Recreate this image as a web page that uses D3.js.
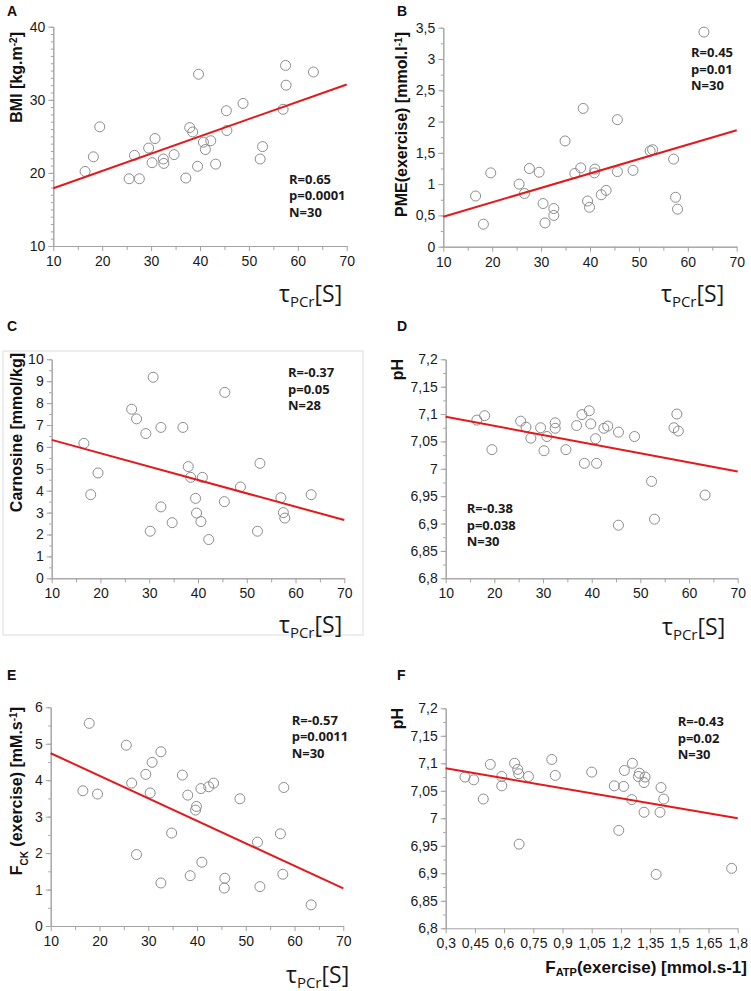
<!DOCTYPE html>
<html><head><meta charset="utf-8">
<script src="https://cdn.jsdelivr.net/npm/d3@7"></script>
<style>body{margin:0;background:#fff}svg{display:block}</style>
</head><body><svg id="c" width="751" height="991"></svg>
<script>
// ---------- DATA ----------
const tauTicks = [10,20,30,40,50,60,70];
const tauMinor = [15,25,35,45,55,65];
const tauLabels = ["10","20","30","40","50","60","70"];

// A: BMI vs tau
const aX = [16.5,18.2,19.5,25.5,26.6,27.6,29.5,30.2,30.8,32.5,32.6,34.7,37.1,37.9,38.5,39.7,39.5,40.7,41.1,42.2,43.2,45.4,45.5,48.8,52.3,52.8,57.0,57.5,57.6,63.2];
const aY = [20.2,22.2,26.3,19.2,22.4,19.2,23.4,21.4,24.7,21.9,21.3,22.5,19.3,26.2,25.6,33.5,20.9,24.2,23.2,24.4,21.2,28.5,25.8,29.5,21.9,23.6,28.7,34.7,32.0,33.8];
const aFit = [[10,17.9],[70,32.1]];
const aYTicks = [10,20,30,40], aYLabels = ["10","20","30","40"];
const aStats = ["R=0.65","p=0.0001","N=30"];

// B: PME(exercise) vs tau
const bX = [16.6,18.2,19.7,25.5,26.6,27.6,29.6,30.4,30.8,32.6,32.6,34.9,36.9,38.1,38.6,39.5,39.9,40.9,41.0,42.3,43.3,45.6,45.6,48.8,52.3,52.8,57.1,57.5,57.9,63.3];
const bY = [0.81,0.36,1.18,1.00,0.85,1.25,1.19,0.69,0.38,0.61,0.50,1.69,1.17,1.26,2.21,0.73,0.63,1.18,1.24,0.83,0.90,2.03,1.20,1.22,1.53,1.55,1.40,0.79,0.60,3.43];
const bFit = [[10,0.48],[70,1.86]];
const bYTicks = [0,0.5,1,1.5,2,2.5,3,3.5], bYLabels = ["0","0,5","1","1,5","2","2,5","3","3,5"];
const bStats = ["R=0.45","p=0.01","N=30"];

// C: Carnosine vs tau
const cX = [16.6,18.0,19.5,26.4,27.4,29.3,30.2,30.8,32.4,32.4,34.7,36.9,38.0,38.5,39.5,39.7,40.6,40.9,42.2,45.5,45.4,48.7,52.2,52.7,57.0,57.5,57.8,63.2];
const cY = [6.16,3.82,4.81,7.72,7.28,6.61,2.15,9.18,6.89,3.26,2.54,6.89,5.10,4.61,3.65,2.98,2.59,4.61,1.77,8.49,3.50,4.17,2.15,5.25,3.68,3.00,2.75,3.82];
const cFit = [[10,6.32],[70,2.66]];
const cYTicks = [0,1,2,3,4,5,6,7,8,9,10], cYLabels = ["0","1","2","3","4","5","6","7","8","9","10"];
const cStats = ["R=-0.37","p=0.05","N=28"];

// D: pH vs tau
const dX = [16.4,18.0,19.5,25.4,26.5,27.5,29.5,30.2,30.8,32.5,32.5,34.7,36.9,38.0,38.5,39.5,39.8,40.8,41.0,42.5,43.3,45.5,45.5,48.8,52.3,52.9,56.9,57.5,57.8,63.3];
const dY = [7.089,7.097,7.035,7.087,7.076,7.056,7.075,7.033,7.059,7.084,7.074,7.035,7.079,7.099,7.010,7.106,7.082,7.055,7.010,7.074,7.078,6.897,7.067,7.059,6.977,6.908,7.075,7.100,7.069,6.952];
const dFit = [[10,7.095],[70,6.995]];
const phTicks = [6.8,6.85,6.9,6.95,7.0,7.05,7.1,7.15,7.2];
const phLabels = ["6,8","6,85","6,9","6,95","7","7,05","7,1","7,15","7,2"];
const dStats = ["R=-0.38","p=0.038","N=30"];

// E: F_CK(exercise) vs tau
const eX = [16.6,17.9,19.6,25.5,26.6,27.6,29.5,30.4,30.8,32.6,32.6,34.8,37.0,38.1,38.6,39.7,39.9,40.8,41.0,42.4,43.4,45.7,45.6,48.8,52.4,52.9,57.1,57.6,57.8,63.4];
const eY = [3.71,5.56,3.62,4.96,3.92,1.96,4.16,3.65,4.49,4.78,1.18,2.55,4.14,3.59,1.38,3.18,3.28,3.77,1.75,3.82,3.92,1.31,1.04,3.49,2.30,1.08,2.53,1.42,3.80,0.58];
const eFit = [[10,4.74],[70,1.03]];
const eYTicks = [0,1,2,3,4,5,6], eYLabels = ["0","1","2","3","4","5","6"];
const eStats = ["R=-0.57","p=0.0011","N=30"];

// F: pH vs F_ATP(exercise)
const fX = [0.399,0.444,0.493,0.529,0.588,0.588,0.654,0.670,0.675,0.677,0.725,0.845,0.863,1.050,1.166,1.189,1.214,1.218,1.256,1.259,1.290,1.295,1.319,1.319,1.324,1.381,1.401,1.406,1.420,1.769];
const fY = [7.075,7.070,7.035,7.098,7.076,7.059,7.100,7.089,7.081,6.953,7.076,7.107,7.078,7.084,7.059,6.978,7.058,7.087,7.034,7.100,7.076,7.082,7.011,7.065,7.075,6.898,7.011,7.056,7.035,6.909];
const fFit = [[0.3,7.091],[1.8,7.000]];
const fXTicks = [0.3,0.45,0.6,0.75,0.9,1.05,1.2,1.35,1.5,1.65,1.8];
const fXLabels = ["0,3","0,45","0,6","0,75","0,9","1,05","1,2","1,35","1,5","1,65","1,8"];
const fStats = ["R=-0.43","p=0.02","N=30"];

function range(a,b,s){const r=[];for(let v=a;v<=b+1e-9;v+=s)r.push(+v.toFixed(4));return r;}

// ---------- LAYOUT ----------
const panels = [
 {id:"A",xs:aX,ys:aY,fit:aFit,xDom:[10,70],yDom:[10,40],xT:tauTicks,xL:tauLabels,xM:tauMinor,yT:aYTicks,yL:aYLabels,yM:range(10,40,1),stats:aStats,
  l:53.3,r:346.7,t:26.7,b:246,lab:[7,16],statPos:[289,183.5],yLab:{x:21.5,y:32,parts:[["BMI [kg.m",""],["-2","sup"],["]",""]]},tauPos:[279,302]},
 {id:"B",xs:bX,ys:bY,fit:bFit,xDom:[10,70],yDom:[0,3.5],xT:tauTicks,xL:tauLabels,xM:tauMinor,yT:bYTicks,yL:bYLabels,yM:range(0,3.5,0.25),stats:bStats,
  l:443.3,r:736.7,t:27.7,b:246.7,lab:[397,16],statPos:[691,57],yLab:{x:407,y:32,parts:[["PME(exercise) [mmol.l",""],["-1","sup"],["]",""]]},tauPos:[661,302]},
 {id:"C",xs:cX,ys:cY,fit:cFit,xDom:[10,70],yDom:[0,10],xT:tauTicks,xL:tauLabels,xM:tauMinor,yT:cYTicks,yL:cYLabels,yM:range(0,10,0.5),stats:cStats,
  l:51.7,r:344.3,t:359.3,b:578.3,lab:[7,331],statPos:[288,377],yLab:{x:21.5,y:353,parts:[["Carnosine [mmol/kg]",""]]},tauPos:[279,633],frame:[3,351,360,284]},
 {id:"D",xs:dX,ys:dY,fit:dFit,xDom:[10,70],yDom:[6.8,7.2],xT:tauTicks,xL:tauLabels,xM:tauMinor,yT:phTicks,yL:phLabels,yM:range(6.8,7.2,0.025),stats:dStats,
  l:445.7,r:737.7,t:359.3,b:578.3,lab:[397,331],statPos:[466.7,513],yLab:{x:403,y:359,parts:[["pH",""]]},tauPos:[662,635]},
 {id:"E",xs:eX,ys:eY,fit:eFit,xDom:[10,70],yDom:[0,6],xT:tauTicks,xL:tauLabels,xM:tauMinor,yT:eYTicks,yL:eYLabels,yM:range(0,6,0.5),stats:eStats,
  l:50.7,r:343.3,t:707.3,b:926,lab:[7,680],statPos:[291.7,724.5],yLab:{x:22,y:707,parts:[["F",""],["CK","sub"],[" (exercise) [mM.s",""],["-1","sup"],["]",""]]},tauPos:[286,983]},
 {id:"F",xs:fX,ys:fY,fit:fFit,xDom:[0.3,1.8],yDom:[6.8,7.2],xT:fXTicks,xL:fXLabels,xM:[],yT:phTicks,yL:phLabels,yM:range(6.8,7.2,0.025),stats:fStats,
  l:445.7,r:737.7,t:708.3,b:928.3,lab:[397,680],statPos:[677.7,726],yLab:{x:403,y:708,parts:[["pH",""]]},
  xLab:{x:747,y:973,parts:[["F",""],["ATP","sub"],["(exercise) [mmol.s-1]",""]]}}
];

const svg = d3.select("#c");
svg.append("rect").attr("width",751).attr("height",991).attr("fill","#fff");
const AX="#a3a3a3", TXT="#1a1a1a";

function styleAxis(g){
  g.selectAll(".domain").attr("stroke",AX).attr("stroke-width",1);
  g.selectAll(".tick line").attr("stroke",AX).attr("stroke-width",1);
  g.selectAll(".tick text").attr("fill",TXT).attr("font-family","'Liberation Sans',Arial,sans-serif").attr("font-size",14);
}
function addParts(text, parts, big, small){
  parts.forEach(([s,k])=>{
    const t=text.append("tspan").text(s);
    if(k==="sup"){t.attr("font-size",small).attr("baseline-shift","super");}
    else if(k==="sub"){t.attr("font-size",small).attr("baseline-shift","sub");}
  });
}

panels.forEach(p=>{
  const x=d3.scaleLinear().domain(p.xDom).range([p.l,p.r]);
  const y=d3.scaleLinear().domain(p.yDom).range([p.b,p.t]);
  const g=svg.append("g");
  if(p.frame){
    g.append("rect").attr("x",p.frame[0]).attr("y",p.frame[1]).attr("width",p.frame[2]).attr("height",p.frame[3])
      .attr("fill","none").attr("stroke","#dcdcdc").attr("stroke-width",1);
  }
  // y minor
  g.append("g").attr("transform",`translate(${p.l},0)`)
    .call(d3.axisLeft(y).tickValues(p.yM).tickSize(2.5).tickSizeOuter(0).tickFormat(""))
    .call(styleAxis);
  // y major
  g.append("g").attr("transform",`translate(${p.l},0)`)
    .call(d3.axisLeft(y).tickValues(p.yT).tickSize(5).tickPadding(3).tickSizeOuter(0).tickFormat((d,i)=>p.yL[i]))
    .call(styleAxis);
  // x minor
  if(p.xM.length){
    g.append("g").attr("transform",`translate(0,${p.b})`)
      .call(d3.axisBottom(x).tickValues(p.xM).tickSize(4).tickSizeOuter(0).tickFormat(""))
      .call(styleAxis);
  }
  // x major
  g.append("g").attr("transform",`translate(0,${p.b})`)
    .call(d3.axisBottom(x).tickValues(p.xT).tickSize(5).tickPadding(5).tickSizeOuter(0).tickFormat((d,i)=>p.xL[i]))
    .call(styleAxis);

  // points
  g.append("g").selectAll("circle").data(p.xs.map((v,i)=>[v,p.ys[i]])).join("circle")
    .attr("cx",d=>x(d[0])).attr("cy",d=>y(d[1])).attr("r",5)
    .attr("fill","none").attr("stroke","#8c8c8c").attr("stroke-width",1);
  // fit line
  g.append("path").datum(p.fit).attr("d",d3.line().x(d=>x(d[0])).y(d=>y(d[1])))
    .attr("stroke","#e3191c").attr("stroke-width",2).attr("fill","none");

  // panel letter
  g.append("text").attr("x",p.lab[0]).attr("y",p.lab[1]).text(p.id)
    .attr("font-family","'Liberation Sans',Arial,sans-serif").attr("font-weight","bold").attr("font-size",14).attr("fill","#111");

  // stats
  p.stats.forEach((s,i)=>{
    g.append("text").attr("x",p.statPos[0]).attr("y",p.statPos[1]+i*16.5).text(s)
      .attr("font-family","'Open Sans',sans-serif").attr("font-weight","bold").attr("font-size",13).attr("fill","#1a1a1a");
  });

  // y label
  const yl=g.append("text").attr("transform",`translate(${p.yLab.x},${p.yLab.y}) rotate(-90)`)
    .attr("text-anchor","end").attr("font-family","'Liberation Sans',Arial,sans-serif").attr("font-weight","bold")
    .attr("font-size",16).attr("fill","#111");
  addParts(yl,p.yLab.parts,16,10);

  // x label
  if(p.tauPos){
    const t=g.append("text").attr("x",p.tauPos[0]).attr("y",p.tauPos[1])
      .attr("font-family","'Open Sans',sans-serif").attr("font-size",23).attr("fill","#1a1a1a");
    t.append("tspan").text("τ");
    t.append("tspan").text("PCr").attr("font-size",15).attr("dy",5);
    t.append("tspan").text("[S]").attr("dy",-5);
  } else {
    const t=g.append("text").attr("x",p.xLab.x).attr("y",p.xLab.y).attr("text-anchor","end")
      .attr("font-family","'Liberation Sans',Arial,sans-serif").attr("font-weight","bold").attr("font-size",17).attr("fill","#111");
    t.append("tspan").text("F");
    t.append("tspan").text("ATP").attr("font-size",11).attr("dy",3);
    t.append("tspan").text("(exercise) [mmol.s-1]").attr("dy",-3);
  }
});
</script></body></html>
